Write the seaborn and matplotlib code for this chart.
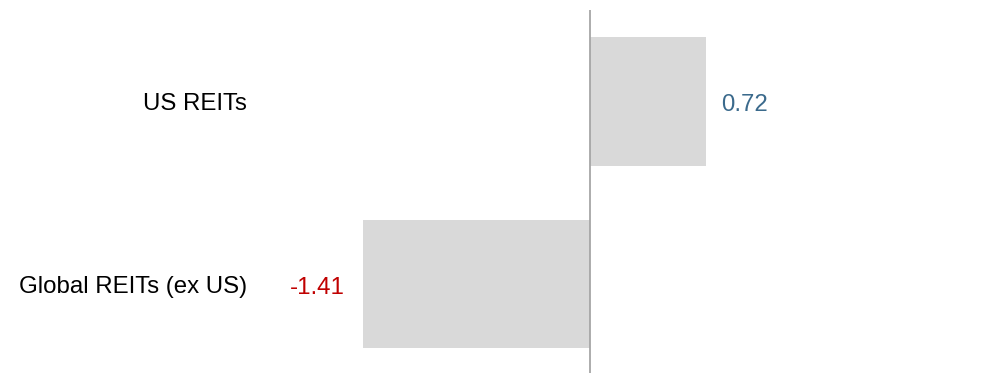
import matplotlib
matplotlib.use('Agg')
import matplotlib.pyplot as plt
import seaborn as sns
import pandas as pd

categories = ['US REITs', 'Global REITs (ex US)']
values = [0.72, -1.41]
labels = ['0.72', '-1.41']
label_colors = ['#3b6a8c', '#c00000']

sns.set_style('white')
plt.rcParams['font.family'] = ['Liberation Sans', 'DejaVu Sans']

df = pd.DataFrame({'cat': categories, 'val': values})

fig = plt.figure(figsize=(9.94, 3.73), dpi=100)
# axes placed in pixels: left 270, right 960, top 10, bottom 373
ax = fig.add_axes([270 / 994, 0, 690 / 994, 363 / 373])

sns.barplot(data=df, x='val', y='cat', orient='h', color='#d9d9d9',
            saturation=1, width=0.7, edgecolor='none', ax=ax)

ax.set_xlim(-(590 - 270) / 161, (960 - 590) / 161)
ax.set_ylim(1.484, -0.5)
ax.axvline(0, color='#a6a6a6', lw=1.3)

for i, (v, t, c) in enumerate(zip(values, labels, label_colors)):
    off = 11 if v >= 0 else -13
    ax.annotate(t, (v, i), xytext=(off, -1), textcoords='offset points',
                ha='left' if v >= 0 else 'right', va='center_baseline',
                color=c, fontsize=17.3)

ax.set_xlabel('')
ax.set_ylabel('')
ax.set_xticks([])
ax.tick_params(axis='y', length=0, pad=16.5, labelsize=17.3, labelcolor='black')
sns.despine(ax=ax, left=True, bottom=True, top=True, right=True)

fig.savefig('out.png', dpi=100)
